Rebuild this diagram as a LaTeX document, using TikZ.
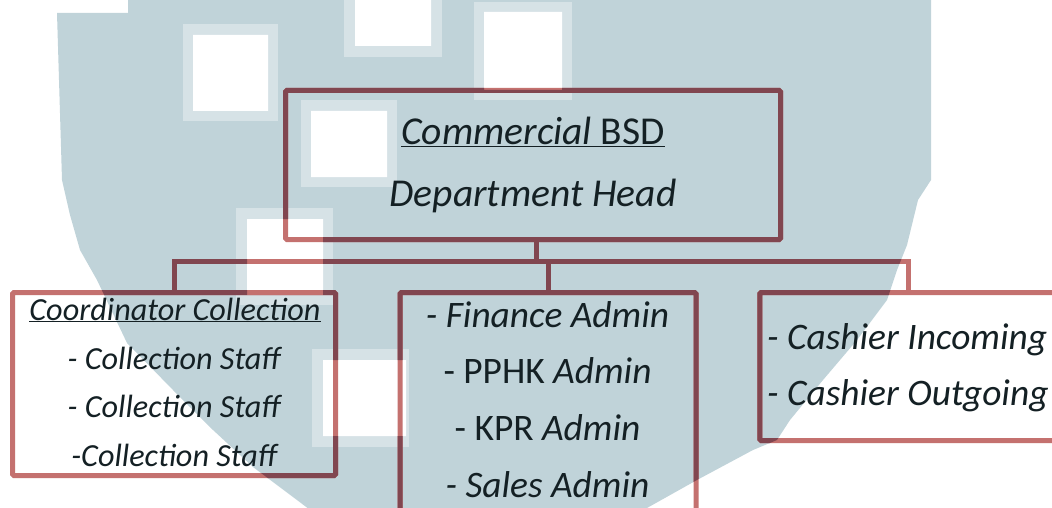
\documentclass[tikz,border=0pt]{standalone}
\usepackage{fontspec}
\setmainfont{Carlito}
\definecolor{wm}{HTML}{C0D3D9}
\definecolor{wmband}{HTML}{D6E2E6}
\definecolor{lnlight}{HTML}{C4716F}
\definecolor{lndark}{HTML}{814650}
\definecolor{txt}{HTML}{142024}
\def\wmpath{(128,-2) -- (931,-2) -- (931,180) -- (918,200) -- (907,245) -- (897,270) -- (887,300) -- (857,340) -- (823,380) -- (790,420) -- (777,440) -- (753,450) -- (697,480) -- (647,508) -- (620,525) -- (330,525) -- (293,497) -- (253,467) -- (213,430) -- (173,390) -- (127,343) -- (97,280) -- (80,250) -- (70,215) -- (62,180) -- (57,13) -- (128,13) -- cycle}
\def\holes{(193,35) rectangle (268,111) (355,-2) rectangle (431,46) (484,12) rectangle (562,90) (311,111) rectangle (387,177) (247,219) rectangle (323,295) (323,360) rectangle (406,436)}
\begin{document}
\begin{tikzpicture}[x=1pt,y=-1pt,
  box/.style={draw=lnlight,line width=5pt,inner sep=0pt,outer sep=0pt,rounded corners=1.5pt},
  conn/.style={draw=lnlight,line width=5pt},
  darkln/.style={draw=lndark,line width=5pt},
  band/.style={fill=wmband},
  hole/.style={fill=white},
  lbl/.style={anchor=base,inner sep=0pt,text=txt},
  big/.style={font=\fontsize{39.5}{46}\selectfont},
  mid/.style={font=\fontsize{37.4}{44}\selectfont},
  small/.style={font=\fontsize{32.2}{38}\selectfont}]
\useasboundingbox[fill=white] (0,0) rectangle (1052,508);
% watermark
\fill[wm] \wmpath;
\fill[band] (183,24) rectangle (278,121);
\fill[band] (344,-2) rectangle (442,57);
\fill[band] (474,2) rectangle (572,100);
\fill[band] (301,100) rectangle (397,187);
\fill[band] (236,208) rectangle (333,305);
\fill[band] (312,349) rectangle (409,447);
\fill[hole] \holes;
% boxes
\node[box,minimum width=495pt,minimum height=149pt] (top) at (533,165) {};
\node[box,minimum width=323pt,minimum height=183pt] (left) at (174,384) {};
\node[box,minimum width=296pt,minimum height=267pt] (midb) at (548,426) {};
\node[box,minimum width=340pt,minimum height=148pt] (right) at (929.75,366.5) {};
\coordinate (bar) at (536,261);
\coordinate (rj) at (908,261);
% connectors
\draw[conn] (top.south -| bar) -- (bar);
\draw[conn] (left.north) -- (left.north |- bar) -- (rj) -- (rj |- right.north);
\draw[conn] (midb.north |- bar) -- (midb.north);
% dark parts over the watermark
\begin{scope}[even odd rule]
\clip \wmpath \holes;
\draw[darkln,rounded corners=1.5pt] (top.north west) rectangle (top.south east);
\draw[darkln,rounded corners=1.5pt] (left.north west) rectangle (left.south east);
\draw[darkln,rounded corners=1.5pt] (midb.north west) rectangle (midb.south east);
\draw[darkln,rounded corners=1.5pt] (right.north west) rectangle (right.south east);
\draw[darkln] (top.south -| bar) -- (bar);
\draw[darkln] (left.north) -- (left.north |- bar) -- (rj) -- (rj |- right.north);
\draw[darkln] (midb.north |- bar) -- (midb.north);
\end{scope}
% texts
\node[lbl,big] (t1) at (533,145) {\underline{\textit{Commercial} BSD}};
\node[lbl,big] (t2) at (533,206) {\textit{Department Head}};
\node[lbl,small] (l1) at (175,320) {\underline{\textit{Coordinator Collection}}};
\node[lbl,small] (l2) at (175,369) {\textit{- Collection Staff}};
\node[lbl,small] (l3) at (175,417.5) {\textit{- Collection Staff}};
\node[lbl,small] (l4) at (175,466) {\textit{-Collection Staff}};
\node[lbl,mid] (m1) at (547.5,327) {\textit{- Finance Admin}};
\node[lbl,mid] (m2) at (547.5,383) {- PPHK \textit{Admin}};
\node[lbl,mid] (m3) at (547.5,440.5) {- KPR \textit{Admin}};
\node[lbl,mid] (m4) at (547.5,497) {\textit{- Sales Admin}};
\node[lbl,mid,anchor=base west] (r1) at (767,349) {\textit{- Cashier Incoming}};
\node[lbl,mid,anchor=base west] (r2) at (767,405.5) {\textit{- Cashier Outgoing}};
\end{tikzpicture}
\end{document}
